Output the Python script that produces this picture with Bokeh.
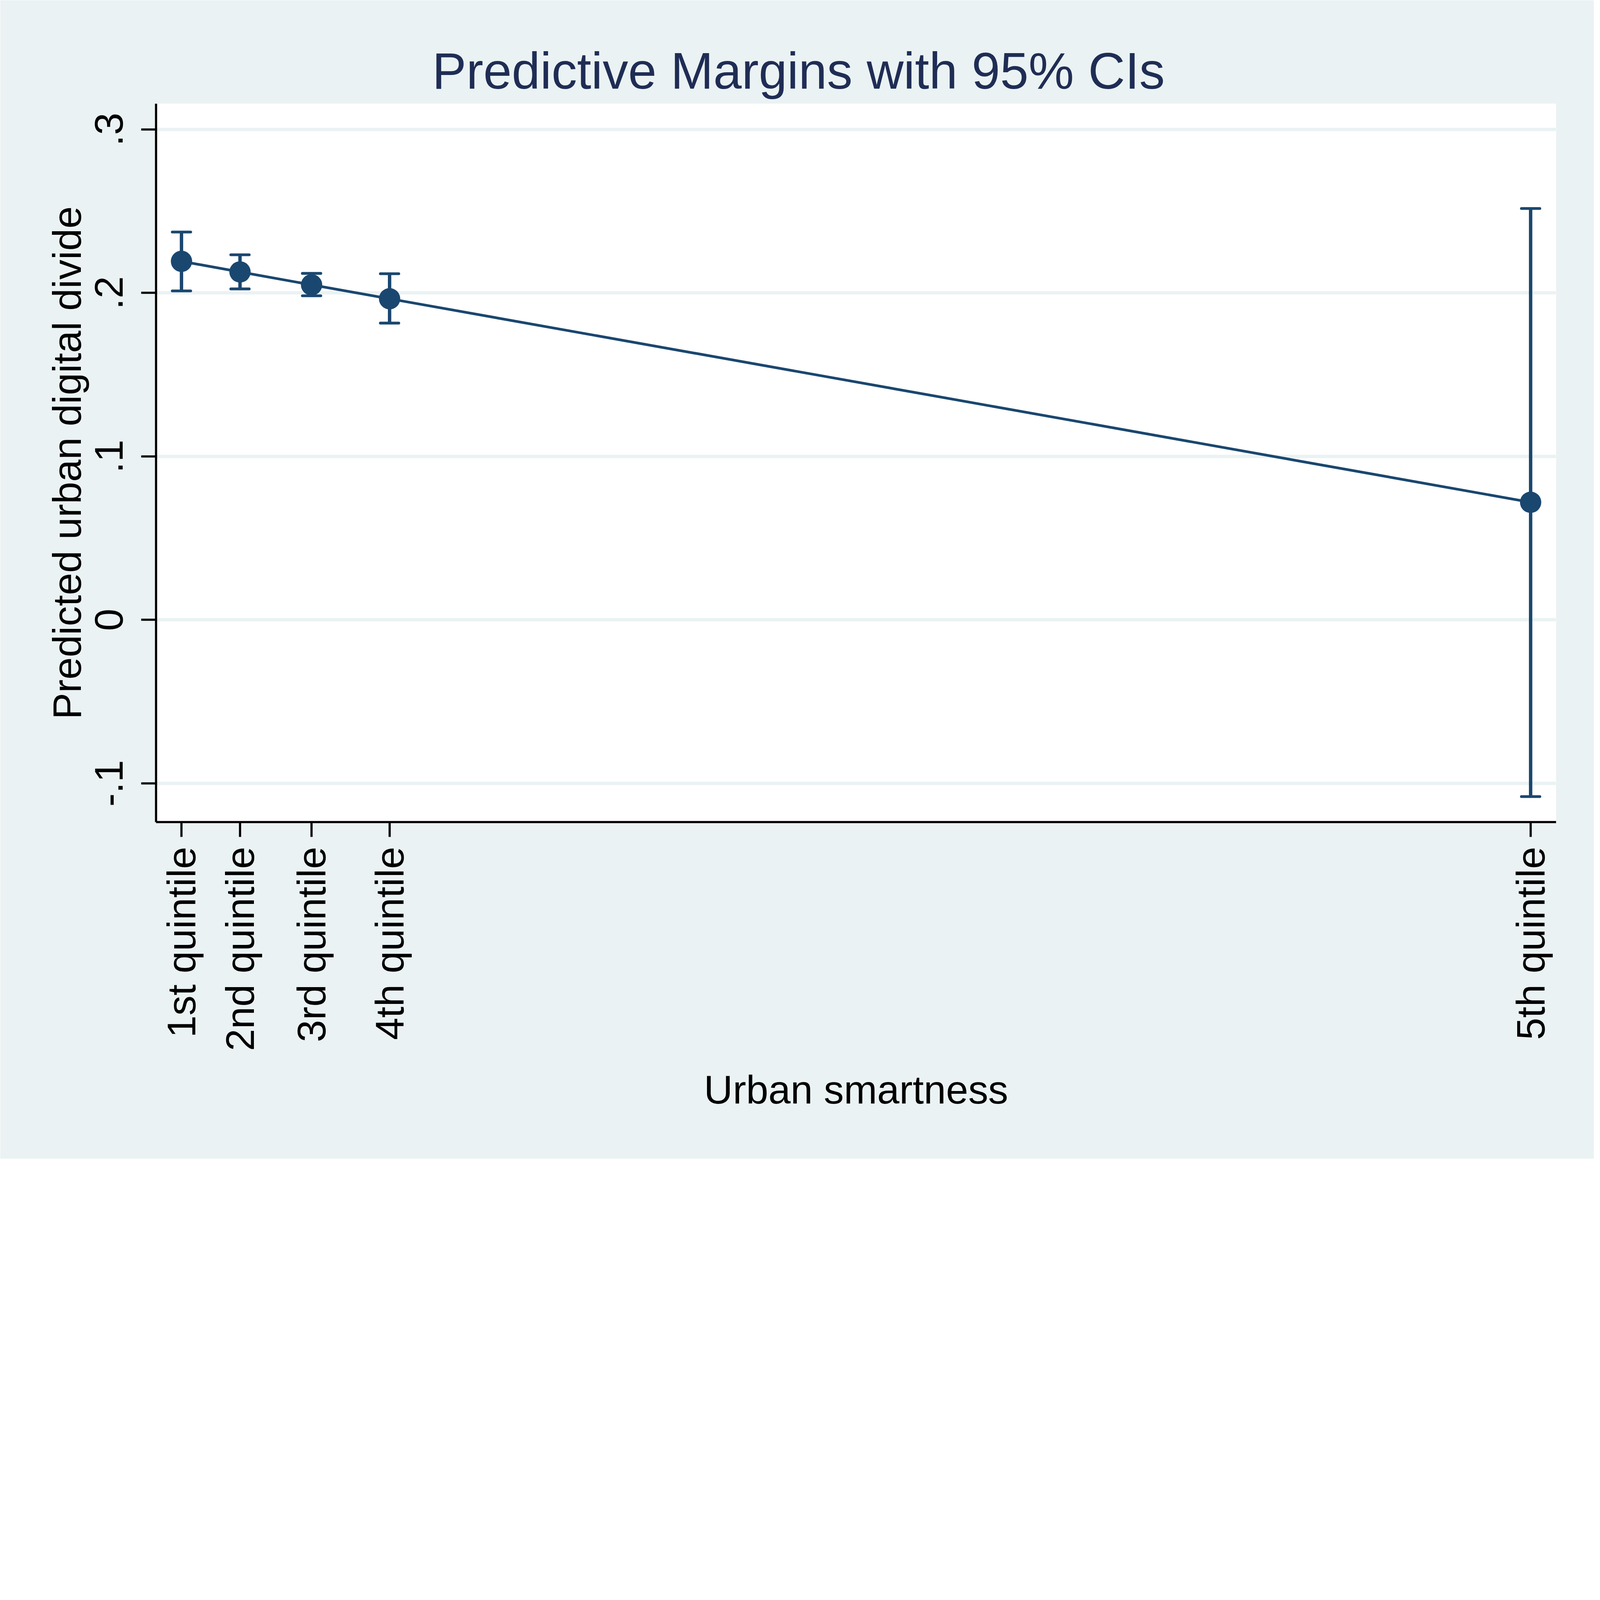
import math
from bokeh.plotting import figure
from bokeh.models import FixedTicker, ColumnDataSource, Range1d
from bokeh.embed import file_html
from bokeh.resources import INLINE

# ---- data ----
categories = ["1st quintile", "2nd quintile", "3rd quintile", "4th quintile", "5th quintile"]
x_values = [1.0, 2.0, 3.223, 4.556, 24.055]
margin = [0.2193, 0.2128, 0.2049, 0.1964, 0.0719]
ci_lower = [0.2012, 0.2024, 0.1982, 0.1815, -0.1081]
ci_upper = [0.2372, 0.2233, 0.2119, 0.2117, 0.2516]
y_ticks = [-0.1, 0.0, 0.1, 0.2, 0.3]
y_tick_labels = ["-.1", "0", ".1", ".2", ".3"]

NAVY = "#1a476f"
BG = "#eaf2f3"
FONT = "Liberation Sans"

# the drawing is laid out on the reference's 6581 px canvas and scaled to fit the window
K = 4080 / 6581


def px(v):
    return v * K


def fpx(v):
    return "%.1fpx" % (v * K)


src = ColumnDataSource(dict(x=x_values, y=margin, lo=ci_lower, hi=ci_upper))

p = figure(width=round(px(6581)), height=round(px(4784)), output_backend="svg", toolbar_location=None,
           x_range=Range1d(0.5654, 24.4896), y_range=Range1d(-0.1237, 0.3157),
           min_border_left=round(px(644)), min_border_right=round(px(157)),
           min_border_top=round(px(428)), min_border_bottom=round(px(1391)),
           background_fill_color="white", border_fill_color=BG, outline_line_color=None)

# title
p.title.text = "Predictive Margins with 95% CIs"
p.title.text_font = FONT
p.title.text_font_size = fpx(211)
p.title.text_font_style = "normal"
p.title.text_color = "#1f2d55"
p.title.align = "left"
p.title.offset = round(px(1140))
p.title.standoff = round(px(36))

# grid
p.xgrid.visible = False
p.ygrid.ticker = FixedTicker(ticks=y_ticks)
p.ygrid.grid_line_color = BG
p.ygrid.grid_line_width = px(14)

# axes
for ax in (p.xaxis[0], p.yaxis[0]):
    ax.axis_line_color = "black"
    ax.axis_line_width = px(9)
    ax.major_tick_line_color = "black"
    ax.major_tick_line_width = px(9)
    ax.major_tick_out = round(px(62))
    ax.major_tick_in = 0
    ax.minor_tick_line_color = None
    ax.major_label_text_font = FONT
    ax.major_label_text_font_size = fpx(165)
    ax.major_label_text_color = "black"
    ax.axis_label_text_font = FONT
    ax.axis_label_text_font_size = fpx(165)
    ax.axis_label_text_font_style = "normal"
    ax.axis_label_text_color = "black"

p.xaxis.ticker = FixedTicker(ticks=x_values)
p.xaxis.major_label_overrides = {v: c for v, c in zip(x_values, categories)}
p.xaxis.major_label_orientation = math.pi / 2
p.xaxis.axis_label = "Urban smartness"
p.xaxis.major_label_standoff = round(px(40))
p.xaxis.axis_label_standoff = round(px(62))

p.yaxis.ticker = FixedTicker(ticks=y_ticks)
p.yaxis.major_label_overrides = {v: t for v, t in zip(y_ticks, y_tick_labels)}
p.yaxis.major_label_orientation = "vertical"
p.yaxis.axis_label = "Predicted urban digital divide"
p.yaxis.major_label_standoff = round(px(76))
p.yaxis.axis_label_standoff = round(px(20))

# confidence intervals: vertical spikes and caps
p.segment(x0="x", y0="lo", x1="x", y1="hi", source=src, line_color=NAVY, line_width=px(14))
for col in ("lo", "hi"):
    p.scatter("x", col, source=src, marker="dash", size=px(76), line_color=NAVY,
              line_width=px(11.5), line_cap="round")

# connecting line and markers
p.line("x", "y", source=src, line_color=NAVY, line_width=px(11))
p.scatter("x", "y", source=src, marker="circle", size=px(88), fill_color=NAVY, line_color=NAVY, line_width=0)

open("out.html", "w").write(file_html(p, INLINE))
